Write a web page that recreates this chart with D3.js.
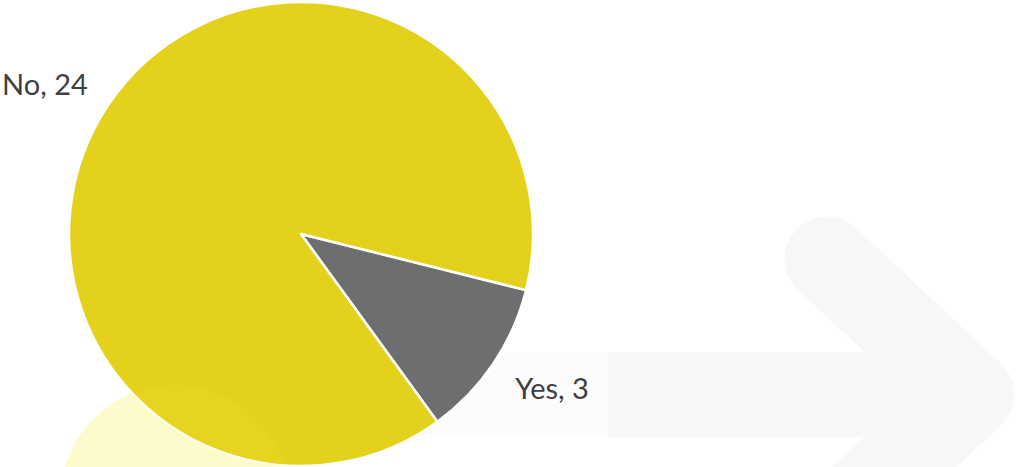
<!DOCTYPE html>
<html>
<head>
<meta charset="utf-8">
<script src="https://cdn.jsdelivr.net/npm/d3@7"></script>
<style>
  html, body { margin: 0; padding: 0; background: #fff; }
  svg { display: block; }
</style>
</head>
<body>
<div id="chart"></div>
<script>
// chart data
const categories = ['Yes', 'No']
const counts = [3, 24]
const sliceColors = ['#6d6e70', '#e3d11b']

const width = 1016
const height = 467
const cx = 301
const cy = 234
const radius = 232
const rotation = 104 // first slice angle, degrees clockwise from 12 o'clock

const svg = d3.select('#chart').append('svg')
  .attr('width', width)
  .attr('height', height)

// faint decorative backdrop (arrow + soft circle)
const deco = svg.append('g').attr('class', 'deco')

deco.append('rect')
  .attr('x', 270).attr('y', 352)
  .attr('width', 340).attr('height', 85)
  .attr('fill', '#fcfcfc')

deco.append('path')
  .attr('d', d3.line()([[608, 394.5], [972, 394.5]]))
  .attr('stroke', '#f7f7f7')
  .attr('stroke-width', 85)
  .attr('fill', 'none')

deco.append('path')
  .attr('d', d3.line()([[827, 259], [972, 394.5], [827, 530]]))
  .attr('stroke', '#f7f7f7')
  .attr('stroke-width', 85)
  .attr('stroke-linecap', 'round')
  .attr('stroke-linejoin', 'round')
  .attr('fill', 'none')

deco.append('circle')
  .attr('cx', 175).attr('cy', 500).attr('r', 115)
  .attr('fill', '#fdfddf')

// pie
const data = categories.map((c, i) => ({ name: c, value: counts[i], color: sliceColors[i] }))

const start = rotation * Math.PI / 180
const pie = d3.pie()
  .sort(null)
  .value(d => d.value)
  .startAngle(start)
  .endAngle(start + 2 * Math.PI)

const arc = d3.arc().innerRadius(0).outerRadius(radius)
const labelArc = d3.arc().innerRadius(262).outerRadius(262)

const g = svg.append('g')
  .attr('transform', `translate(${cx},${cy})`)

const arcs = pie(data)

g.selectAll('.slice')
  .data(arcs)
  .enter().append('path')
  .attr('class', 'slice')
  .attr('d', arc)
  .attr('fill', d => d.data.color)
  .attr('stroke', '#fff')
  .attr('stroke-width', 2.5)
  .attr('stroke-linejoin', 'round')

// the yellow blob shows through the bottom of the pie a little
svg.append('circle')
  .attr('cx', 175).attr('cy', 500).attr('r', 115)
  .attr('fill', '#fff04a')
  .attr('opacity', 0.12)

// data labels
const isLeft = d => ((d.startAngle + d.endAngle) / 2 % (2 * Math.PI)) > Math.PI

g.selectAll('.label')
  .data(arcs)
  .enter().append('text')
  .attr('class', 'label')
  .attr('transform', d => {
    const [x, y] = labelArc.centroid(d)
    return `translate(${x},${y})`
  })
  .attr('text-anchor', d => isLeft(d) ? 'end' : 'start')
  .attr('dy', d => isLeft(d) ? '0.25em' : '0.65em')
  .attr('dx', d => isLeft(d) ? 4 : -3)
  .attr('font-family', 'Lato, "Open Sans", sans-serif')
  .attr('font-size', 29)
  .attr('fill', '#404040')
  .text(d => `${d.data.name}, ${d.data.value}`)
</script>
</body>
</html>
